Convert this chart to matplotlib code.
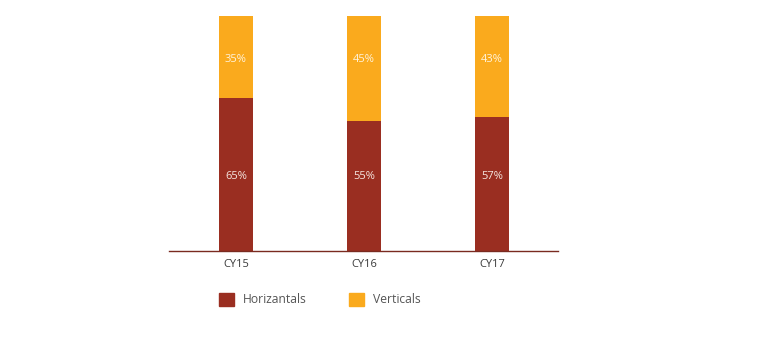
import matplotlib.pyplot as plt
from matplotlib.patches import Patch

plt.rcParams["font.family"] = ["Open Sans", "DejaVu Sans"]

categories = ["CY15", "CY16", "CY17"]
horizontals = [65, 55, 57]
verticals = [35, 45, 43]

RED = "#9A2E21"
ORANGE = "#FAAA1D"
TEXT = "#555555"

fig = plt.figure(figsize=(7.64, 3.58), dpi=100)
ax = fig.add_axes([169 / 764, 1 - 251 / 358, (558 - 169) / 764, (251 - 15.5) / 358])

x = list(range(len(categories)))
width = 0.266
ax.bar(x, horizontals, width=width, color=RED)
ax.bar(x, verticals, width=width, bottom=horizontals, color=ORANGE)

# labels sit on common rows across the bars
low_row, high_row = 31.5, 81.4
for i in x:
    ax.text(i, low_row, f"{horizontals[i]}%", ha="center", va="center",
            color="#F5E6E0", fontsize=8)
    ax.text(i, high_row, f"{verticals[i]}%", ha="center",
            va="center", color="#FFF3DC", fontsize=8)

ax.set_xlim(-0.523, 2.516)
ax.set_ylim(0, 100)
ax.set_xticks(x)
ax.set_xticklabels(categories, fontsize=8, color="#3A3A3A")
ax.tick_params(axis="x", length=0, pad=6)
ax.set_yticks([])
for side in ["top", "right", "left"]:
    ax.spines[side].set_visible(False)
ax.spines["bottom"].set_color("#7A2A20")
ax.spines["bottom"].set_linewidth(1)

handles = [Patch(color=RED, label="Horizantals"), Patch(color=ORANGE, label="Verticals")]
fig.legend(handles=handles, loc="center left", bbox_to_anchor=(219 / 764, 1 - 299.5 / 358),
           ncol=2, frameon=False, fontsize=8.7, handlelength=1.25, handleheight=1.25,
           handletextpad=0.72, columnspacing=3.5, borderpad=0, borderaxespad=0,
           labelcolor=TEXT)

fig.savefig("out.png", dpi=100)
